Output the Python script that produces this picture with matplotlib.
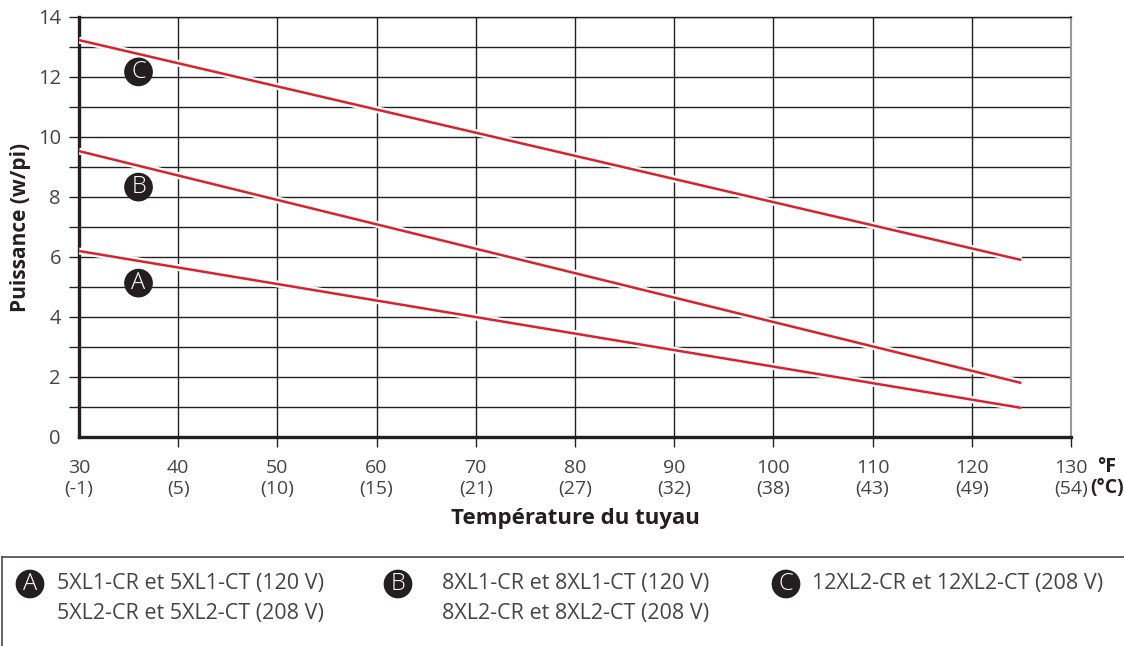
import matplotlib.pyplot as plt
import matplotlib.patheffects as pe
from matplotlib.lines import Line2D

plt.rcParams['font.family'] = ['Open Sans', 'DejaVu Sans']

# data
temp_f = [30, 125]
series_a = [6.2, 0.97]
series_b = [9.53, 1.8]
series_c = [13.23, 5.9]

x_ticks = [30, 40, 50, 60, 70, 80, 90, 100, 110, 120, 130]
x_celsius = ['-1', '5', '10', '15', '21', '27', '32', '38', '43', '49', '54']
y_ticks = [0, 2, 4, 6, 8, 10, 12, 14]

letters = ['A', 'B', 'C']
letter_y = [5.13, 8.33, 12.17]
legend_lines = [
    ['5XL1-CR et 5XL1-CT (120 V)', '5XL2-CR et 5XL2-CT (208 V)'],
    ['8XL1-CR et 8XL1-CT (120 V)', '8XL2-CR et 8XL2-CT (208 V)'],
    ['12XL2-CR et 12XL2-CT (208 V)'],
]

dark = '#231f20'
grey_txt = '#444444'
red = '#d8232f'

fig = plt.figure(figsize=(11.24, 6.46), dpi=100)
ax = fig.add_axes([79 / 1124, 1 - 437 / 646, (1071 - 79) / 1124, (437 - 17) / 646])
ax.set_xlim(30, 130)
ax.set_ylim(0, 14)

# grid
for y in range(1, 15):
    ax.axhline(y, color=dark, lw=1.0, zorder=1)
for x in x_ticks[1:-1]:
    ax.axvline(x, color=dark, lw=1.0, zorder=1)

halo = [pe.Stroke(linewidth=5, foreground='white'), pe.Normal()]
for s in [series_a, series_b, series_c]:
    ax.plot(temp_f, s, color=red, lw=1.8, zorder=3, path_effects=halo, solid_capstyle='butt')

for lt, ly in zip(letters, letter_y):
    ax.text(36, ly, lt, ha='center', va='center', color='white', fontsize=17, zorder=4,
            fontweight='light',
            bbox=dict(boxstyle='circle,pad=0.1', fc=dark, ec='none'))

for sp in ['left', 'bottom']:
    ax.spines[sp].set_linewidth(2.4)
    ax.spines[sp].set_color(dark)
ax.spines['top'].set_linewidth(1.0)
ax.spines['top'].set_color(dark)
ax.spines['right'].set_linewidth(1.5)
ax.spines['right'].set_color('#9a9a9a')

ax.set_xticks(x_ticks)
ax.set_xticklabels([f'{f}\n({c})' for f, c in zip(x_ticks, x_celsius)], color=grey_txt,
                   fontsize=14, linespacing=1.2)
ax.set_yticks(range(0, 15))
ax.set_yticklabels([str(v) if v in y_ticks else '' for v in range(0, 15)], color=grey_txt, fontsize=14.5)
ax.tick_params(axis='x', length=7, width=1.0, color=dark, pad=9)
ax.tick_params(axis='y', length=7, width=1.0, color=dark, pad=6)
ax.xaxis.get_major_ticks()[0].tick1line.set_visible(False)
ax.yaxis.get_major_ticks()[0].tick1line.set_visible(False)

ax.set_ylabel('Puissance (w/pi)', fontsize=15, fontweight='bold', color=dark, labelpad=5)
ax.set_xlabel('Température du tuyau', fontsize=16, fontweight='bold', color=dark, labelpad=7)

fig.text(1107 / 1124, 1 - 467 / 646, '°F', fontsize=14, fontweight='bold', color=dark,
         ha='center', va='center')
fig.text(1090 / 1124, 1 - 488 / 646, '(°C)', fontsize=14, fontweight='bold', color=dark,
         ha='left', va='center')

# legend box
fig.add_artist(Line2D([2 / 1124, 1], [1 - 557 / 646] * 2, color='#555555', lw=1.3))
fig.add_artist(Line2D([2 / 1124] * 2, [0, 1 - 557 / 646], color='#555555', lw=1.3))

leg_circle_x = [30, 398, 786]
leg_text_x = [57, 442, 812]
for lt, cx, tx, rows in zip(letters, leg_circle_x, leg_text_x, legend_lines):
    fig.text(cx / 1124, 1 - 584 / 646, lt, ha='center', va='center', color='white', fontsize=17,
             fontweight='light',
             bbox=dict(boxstyle='circle,pad=0.1', fc=dark, ec='none'))
    for i, row in enumerate(rows):
        fig.text(tx / 1124, 1 - (584 + 30 * i) / 646, row, ha='left', va='center',
                 color=grey_txt, fontsize=15.5)

fig.savefig('out.png', dpi=100)
